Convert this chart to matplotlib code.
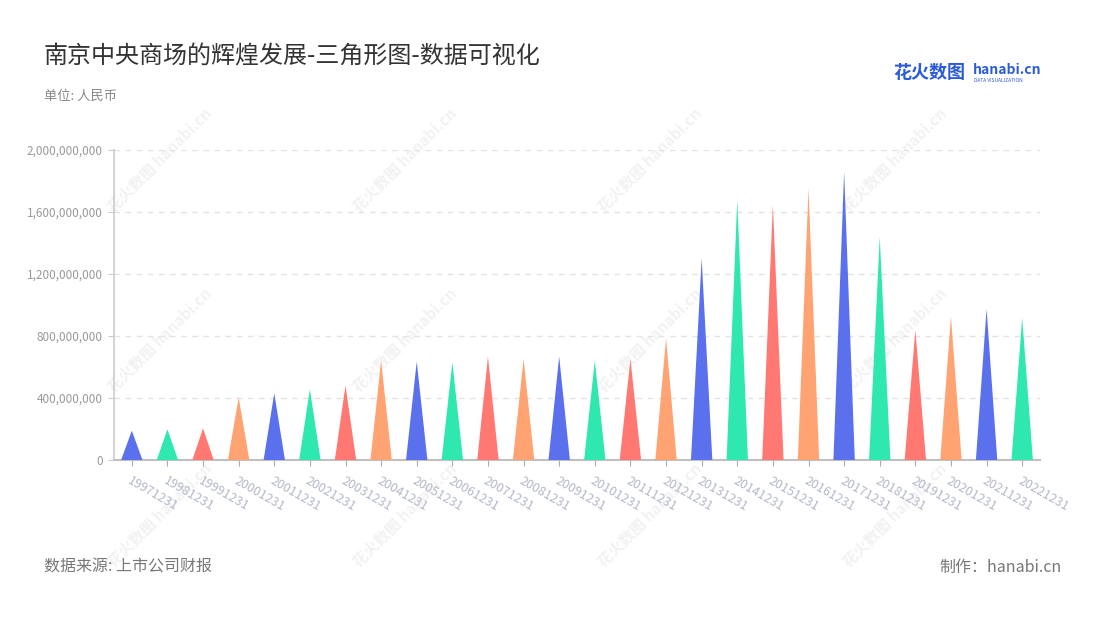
import matplotlib
matplotlib.use("Agg")
import matplotlib.pyplot as plt
from matplotlib.patches import Polygon
from matplotlib.ticker import FuncFormatter

plt.rcParams['font.family'] = ['Noto Sans CJK SC', 'DejaVu Sans']

dates = ['19971231', '19981231', '19991231', '20001231', '20011231', '20021231',
         '20031231', '20041231', '20051231', '20061231', '20071231', '20081231',
         '20091231', '20101231', '20111231', '20121231', '20131231', '20141231',
         '20151231', '20161231', '20171231', '20181231', '20191231', '20201231',
         '20211231', '20221231']
values = [189e6, 198e6, 204e6, 404e6, 430e6, 456e6, 480e6, 641e6, 635e6, 630e6,
          667e6, 652e6, 667e6, 641e6, 652e6, 785e6, 1301e6, 1677e6, 1645e6,
          1753e6, 1860e6, 1441e6, 839e6, 925e6, 974e6, 918e6]
colors = ['#5A70EC', '#2EE8B0', '#FF7872', '#FFA372']

fig = plt.figure(figsize=(11, 6.2), dpi=100)

# faint watermark layer behind everything
bg = fig.add_axes([0, 0, 1, 1], zorder=-1)
bg.set_xlim(0, 1100)
bg.set_ylim(620, 0)
bg.axis('off')
for wx in [160, 405, 650, 895]:
    for wy in [160, 340, 515]:
        bg.text(wx, wy, '花火数图 hanabi.cn', rotation=45, color='#f2f2f2',
                fontsize=11, fontweight='bold', ha='center', va='center')

ax = fig.add_axes([114 / 1100, 1 - 460 / 620, 926 / 1100, 310 / 620])
ax.set_facecolor('none')

w = 0.6
for i, v in enumerate(values):
    tri = Polygon([(i - w / 2, 0), (i, v), (i + w / 2, 0)], closed=True,
                  facecolor=colors[i % 4], edgecolor='none', zorder=3)
    ax.add_patch(tri)

ax.set_xlim(-0.5, len(values) - 0.5)
ax.set_ylim(0, 2e9)
ax.set_yticks([0, 4e8, 8e8, 1.2e9, 1.6e9, 2e9])
ax.yaxis.set_major_formatter(FuncFormatter(lambda v, p: f'{int(v):,}'))
ax.grid(axis='y', linestyle=(0, (4, 4)), color='#e3e3e3', linewidth=1)
ax.set_axisbelow(True)

ax.set_xticks(range(len(dates)))
ax.set_xticklabels(dates, rotation=-30, ha='left', va='top', rotation_mode='anchor',
                   color='#b4b8c8', fontsize=9)
ax.tick_params(axis='x', length=4, color='#aaaaaa', pad=6)
ax.tick_params(axis='y', length=4, color='#cccccc', labelcolor='#999999', labelsize=8.5, pad=4)

for s in ['top', 'right']:
    ax.spines[s].set_visible(False)
ax.spines['left'].set_color('#cccccc')
ax.spines['bottom'].set_color('#c0c0c0')
ax.spines['left'].set_linewidth(1.2)
ax.spines['bottom'].set_linewidth(1.5)

fig.text(44 / 1100, 1 - 56 / 620, '南京中央商场的辉煌发展-三角形图-数据可视化',
         fontsize=17.3, color='#333333', va='center')
fig.text(44 / 1100, 1 - 96 / 620, '单位: 人民币', fontsize=9.5, color='#888888', va='center')
fig.text(44 / 1100, 1 - 567 / 620, '数据来源: 上市公司财报', fontsize=11.5, color='#777777', va='center')
fig.text(1062 / 1100, 1 - 567 / 620, '制作：hanabi.cn', fontsize=11.5, color='#777777',
         va='center', ha='right')

# logo
fig.text(893 / 1100, 1 - 73 / 620, '花火数图', fontsize=13, color='#2B5BD7',
         fontweight='bold', va='center')
fig.text(973 / 1100, 1 - 70 / 620, 'hanabi.cn', fontsize=10, color='#2B5BD7',
         fontweight='bold', va='center')
fig.text(974 / 1100, 1 - 80 / 620, 'DATA VISUALIZATION', fontsize=3.5, color='#2B5BD7',
         va='center')

fig.savefig('out.png', dpi=100)
